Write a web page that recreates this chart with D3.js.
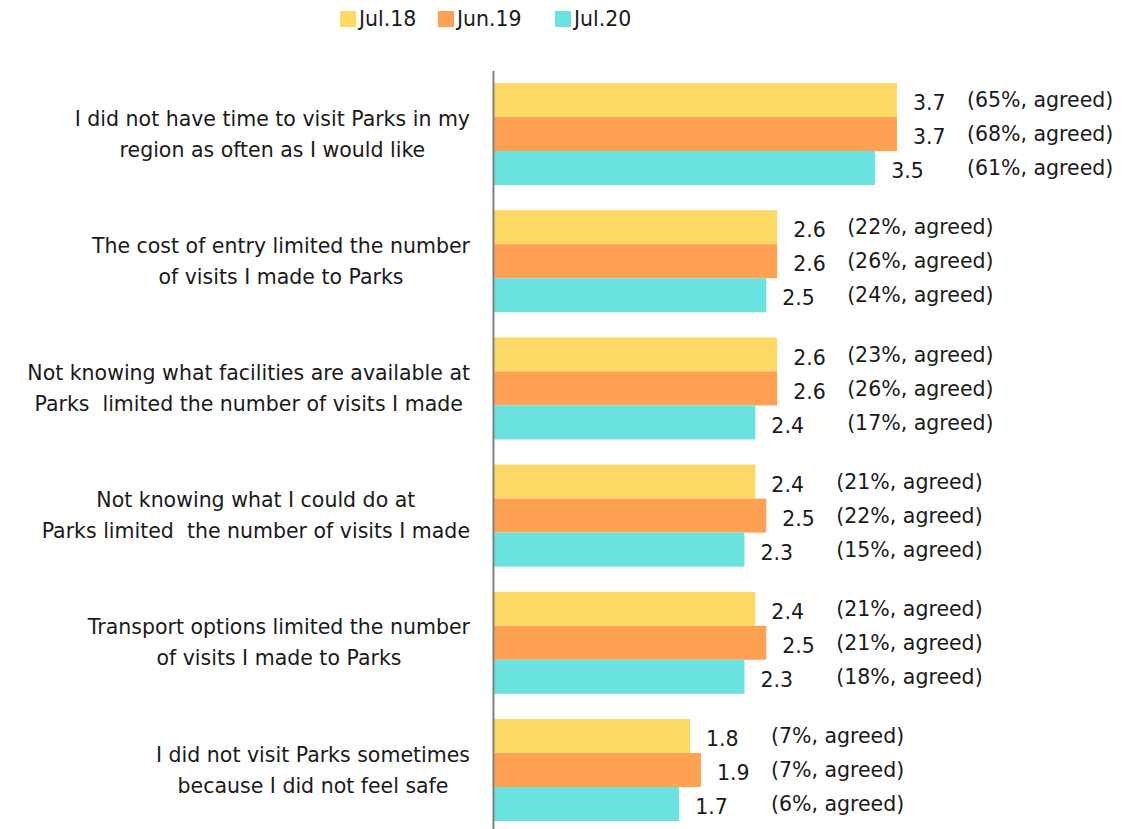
<!DOCTYPE html>
<html>
<head>
<meta charset="utf-8">
<script src="https://cdn.jsdelivr.net/npm/d3@7"></script>
<style>
  body { margin: 0; background: #fff; }
  text { font-family: "DejaVu Sans", sans-serif; fill: #1a1a1a; white-space: pre; }
</style>
</head>
<body>
<svg width="1122" height="829"></svg>
<script>
// survey statements (lines as shown in the chart)
var categories = [
    ["I did not have time to visit Parks in my", "region as often as I would like"],
    ["The cost of entry limited the number", "of visits I made to Parks"],
    ["Not knowing what facilities are available at", "Parks  limited the number of visits I made"],
    ["Not knowing what I could do at", "Parks limited  the number of visits I made"],
    ["Transport options limited the number", "of visits I made to Parks"],
    ["I did not visit Parks sometimes", "because I did not feel safe"]
];

var series = ["Jul.18", "Jun.19", "Jul.20"];
var colors = ["#ffd966", "#ffa152", "#6ae2e0"];

// mean scores per wave
var jul18 = [3.7, 2.6, 2.6, 2.4, 2.4, 1.8];
var jun19 = [3.7, 2.6, 2.6, 2.5, 2.5, 1.9];
var jul20 = [3.5, 2.5, 2.4, 2.3, 2.3, 1.7];

// percent agreed per wave
var agree18 = [65, 22, 23, 21, 21, 7];
var agree19 = [68, 26, 26, 22, 21, 7];
var agree20 = [61, 24, 17, 15, 18, 6];

var values = [jul18, jun19, jul20];
var agreed = [agree18, agree19, agree20];

var svg = d3.select("svg");
var axisX = 494;
var fontSize = "20.5px";

var y = d3.scaleBand()
    .domain(d3.range(categories.length))
    .range([83, 821])
    .paddingInner(0.198);

var ySub = d3.scaleBand()
    .domain(series)
    .range([0, y.bandwidth()]);

var x = d3.scaleLinear()
    .domain([0, 4])
    .range([axisX, axisX + 4 * 108.9]);

// bars
var groups = svg.append("g")
    .selectAll("g")
    .data(categories)
    .enter().append("g")
    .attr("transform", function(d, i) { return "translate(0," + y(i) + ")"; });

groups.each(function(cat, i) {
    var g = d3.select(this);
    var rows = series.map(function(s, j) {
        return {s: s, j: j, v: values[j][i], p: agreed[j][i]};
    });
    var maxEnd = d3.max(rows, function(r) { return x(r.v); });

    g.selectAll("rect")
        .data(rows)
        .enter().append("rect")
        .attr("x", x(0))
        .attr("y", function(r) { return ySub(r.s); })
        .attr("width", function(r) { return x(r.v) - x(0); })
        .attr("height", ySub.bandwidth())
        .attr("fill", function(r) { return colors[r.j]; });

    g.selectAll("text.val")
        .data(rows)
        .enter().append("text")
        .attr("class", "val")
        .attr("x", function(r) { return x(r.v) + 16; })
        .attr("y", function(r) { return ySub(r.s) + ySub.bandwidth() / 2 + 3; })
        .attr("dy", "0.35em")
        .style("font-size", fontSize)
        .text(function(r) { return r.v.toFixed(1); });

    g.selectAll("text.pct")
        .data(rows)
        .enter().append("text")
        .attr("class", "pct")
        .attr("x", maxEnd + 70)
        .attr("y", function(r) { return ySub(r.s) + ySub.bandwidth() / 2; })
        .attr("dy", "0.35em")
        .style("font-size", fontSize)
        .text(function(r) { return "(" + r.p + "%, agreed)"; });

    // category label: lines centred within a block that is right-aligned
    var label = g.append("text")
        .style("font-size", fontSize)
        .attr("text-anchor", "middle");
    var spans = label.selectAll("tspan")
        .data(cat)
        .enter().append("tspan")
        .attr("y", function(d, k) { return y.bandwidth() / 2 + (k - 0.5) * 31; })
        .attr("dy", "0.35em")
        .text(function(d) { return d; });
    var w = 0;
    spans.each(function() { w = Math.max(w, this.getComputedTextLength()); });
    spans.attr("x", 470 - w / 2);
});

// vertical axis line
svg.append("line")
    .attr("x1", axisX - 0.5).attr("x2", axisX - 0.5)
    .attr("y1", 71).attr("y2", 829)
    .attr("stroke", "#808080")
    .attr("stroke-width", 2);

// legend
var legendX = [340, 438, 555];
var legend = svg.append("g")
    .selectAll("g")
    .data(series)
    .enter().append("g")
    .attr("transform", function(d, i) { return "translate(" + legendX[i] + ",11)"; });

legend.append("rect")
    .attr("width", 16).attr("height", 16)
    .attr("fill", function(d, i) { return colors[i]; });

legend.append("text")
    .attr("x", 19).attr("y", 8)
    .attr("dy", "0.35em")
    .style("font-size", fontSize)
    .text(function(d) { return d; });
</script>
</body>
</html>
